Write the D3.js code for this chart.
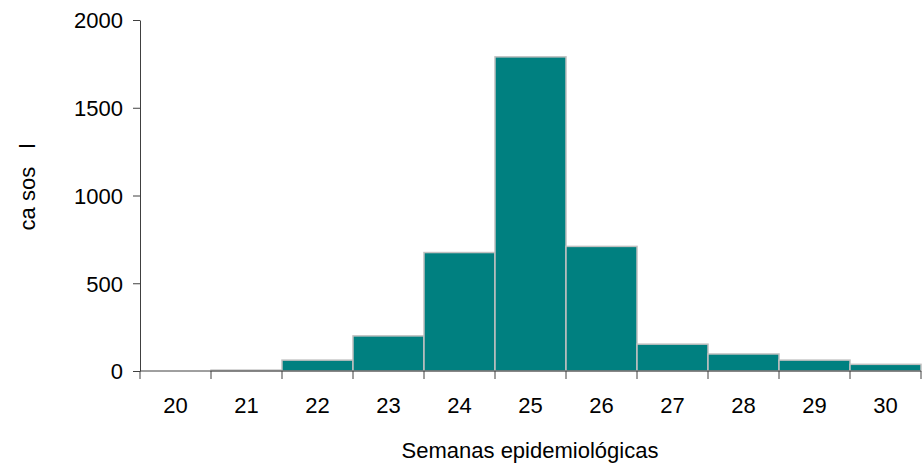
<!DOCTYPE html>
<html>
<head>
<meta charset="utf-8">
<script src="https://cdn.jsdelivr.net/npm/d3@7"></script>
<style>
  body { margin: 0; background: #fff; }
  text { font-family: "Liberation Sans", Arial, sans-serif; }
</style>
</head>
<body>
<div id="canvas"></div>
<script>
const weeks = ["20", "21", "22", "23", "24", "25", "26", "27", "28", "29", "30"];
const cases = [0, 5, 62, 200, 675, 1790, 710, 153, 97, 62, 38];
const yTicks = [0, 500, 1000, 1500, 2000];

const width = 923;
const height = 464;
const margin = { top: 20, left: 140, bottom: 93, right: 2 };
const iwidth = width - margin.left - margin.right;
const iheight = height - margin.top - margin.bottom;
const fs = 22;

const svg = d3.select("#canvas").append("svg")
  .attr("width", width)
  .attr("height", height);

const g = svg.append("g")
  .attr("transform", `translate(${margin.left},${margin.top})`);

const x = d3.scaleBand().domain(weeks).range([0, iwidth]).padding(0);
const y = d3.scaleLinear().domain([0, 2000]).range([iheight, 0]);

g.selectAll("rect.bar")
  .data(weeks)
  .enter()
  .append("rect")
  .attr("class", "bar")
  .attr("x", (d) => x(d))
  .attr("y", (d, i) => y(cases[i]))
  .attr("width", x.bandwidth())
  .attr("height", (d, i) => iheight - y(cases[i]))
  .attr("fill", "#008080")
  .attr("stroke", "#c0c0c0")
  .attr("stroke-width", 1.5);

// y axis
const yAxis = g.append("g")
  .call(d3.axisLeft(y).tickValues(yTicks).tickFormat(d3.format("d"))
    .tickSize(7).tickPadding(10).tickSizeOuter(0));
yAxis.select(".domain").attr("stroke", "#404040");
yAxis.selectAll(".tick line").attr("stroke", "#404040");
yAxis.selectAll("text").attr("font-size", fs).attr("fill", "#000")
  .attr("dy", "0.36em")
  .style("font-family", "Liberation Sans, Arial, sans-serif");

// x axis: ticks between categories
const xAxis = g.append("g").attr("transform", `translate(0,${iheight})`);
xAxis.append("line")
  .attr("x1", 0).attr("x2", iwidth)
  .attr("stroke", "#404040");
const bounds = weeks.map((d) => x(d)).concat([iwidth]);
xAxis.selectAll("line.tk")
  .data(bounds)
  .enter()
  .append("line")
  .attr("class", "tk")
  .attr("x1", (d) => d).attr("x2", (d) => d)
  .attr("y1", 0).attr("y2", 8)
  .attr("stroke", "#404040");
xAxis.selectAll("text.lbl")
  .data(weeks)
  .enter()
  .append("text")
  .attr("class", "lbl")
  .attr("x", (d) => x(d) + x.bandwidth() / 2)
  .attr("y", 42)
  .attr("text-anchor", "middle")
  .attr("font-size", fs)
  .text((d) => d);

svg.append("text")
  .attr("x", 530)
  .attr("y", 458)
  .attr("text-anchor", "middle")
  .attr("font-size", fs)
  .text("Semanas epidemiológicas");

svg.append("text")
  .attr("transform", "translate(35,187) rotate(-90)")
  .attr("text-anchor", "middle")
  .attr("font-size", fs)
  .attr("xml:space", "preserve")
  .style("white-space", "pre")
  .text("ca sos   l");
</script>
</body>
</html>
